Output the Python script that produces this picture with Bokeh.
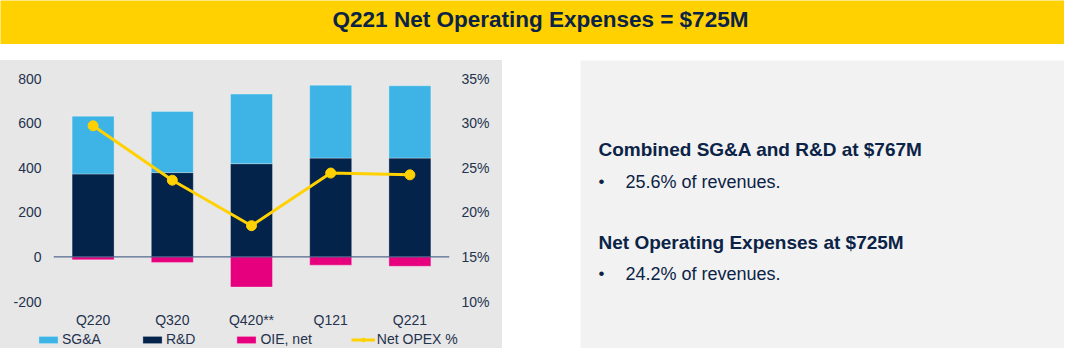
from bokeh.plotting import figure
from bokeh.models import (FactorRange, Range1d, LinearAxis, FixedTicker,
                          PrintfTickFormatter, Span, Legend, LegendItem, Spacer, ColumnDataSource)
from bokeh.layouts import column, row
from bokeh.embed import file_html
from bokeh.resources import INLINE
from bokeh.core.properties import value

# ---------------- data ----------------
quarters = ["Q220", "Q320", "Q420**", "Q121", "Q221"]
rd = [372, 378, 418, 443, 443]
sga = [259, 274, 312, 327, 324]
oie = [-13, -25, -135, -37, -42]
net_opex_pct = [29.7, 23.6, 18.5, 24.4, 24.2]
left_ticks = [-200, 0, 200, 400, 600, 800]
right_ticks = [10, 15, 20, 25, 30, 35]
legend_labels = ["SG&A", "R&D", "OIE, net", "Net OPEX %"]

title_text = "Q221 Net Operating Expenses = $725M"
headings = ["Combined SG&A and R&D at $767M", "Net Operating Expenses at $725M"]
bullets = ["25.6% of revenues.", "24.2% of revenues."]

# ---------------- styles ----------------
FONT = "Liberation Sans"
NAVY = "#0B2346"
AXIS_TXT = "#24324D"
YELLOW = "#FFD100"
C_SGA = "#3DB4E5"
C_RD = "#03234B"
C_OIE = "#E6007E"
CHART_BG = "#E7E7E7"
PANEL_BG = "#F2F2F2"


def bare(fig, bg):
    fig.background_fill_color = bg
    fig.border_fill_color = bg
    fig.outline_line_color = None
    fig.xgrid.visible = False
    fig.ygrid.visible = False
    if hasattr(fig, "frame_align"):
        fig.frame_align = False


# ---------------- banner ----------------
banner = figure(width=1064, height=44, x_range=Range1d(0, 1064), y_range=Range1d(0, 44),
                x_axis_type=None, y_axis_type=None, output_backend="svg",
                toolbar_location=None, min_border=0, title=None)
bare(banner, YELLOW)
banner.text(x=[540], y=[25], text=[title_text], text_font=value(FONT),
            text_font_style="bold", text_font_size="22.5px", text_color=NAVY,
            text_align="center", text_baseline="middle")

# ---------------- chart ----------------
src = ColumnDataSource(dict(
    q=quarters,
    rd_top=rd,
    sga_bottom=rd,
    sga_top=[a + b for a, b in zip(rd, sga)],
    oie=oie,
    pct=net_opex_pct,
    zero=[0] * len(quarters),
))


def draw_series(fig, y_name):
    bw = 0.53
    bar_line = dict(line_color="#FFFFFF", line_alpha=0.3, line_width=1)
    r_rd = fig.vbar(x="q", bottom="zero", top="rd_top", width=bw, source=src,
                    fill_color=C_RD, **bar_line)
    r_sga = fig.vbar(x="q", bottom="sga_bottom", top="sga_top", width=bw, source=src,
                     fill_color=C_SGA, **bar_line)
    r_oie = fig.vbar(x="q", bottom="oie", top="zero", width=bw, source=src,
                     fill_color=C_OIE, **bar_line)
    kw = {"y_range_name": y_name} if y_name else {}
    r_line = fig.line(x="q", y="pct", source=src, line_color=YELLOW, line_width=3, **kw)
    r_pts = fig.scatter(x="q", y="pct", source=src, size=10, fill_color=YELLOW,
                        line_color=YELLOW, **kw)
    return r_sga, r_rd, r_oie, r_line, r_pts


p = figure(x_range=FactorRange(*quarters), y_range=Range1d(-200, 800),
           width=502, height=270, output_backend="svg", toolbar_location=None,
           min_border_left=53, min_border_right=53, min_border_top=18,
           min_border_bottom=27, title=None)
bare(p, CHART_BG)
p.extra_y_ranges = {"pct": Range1d(10, 35)}
draw_series(p, "pct")
p.add_layout(Span(location=0, dimension="width", line_color="#2E4A7A", line_width=1))

for ax in [p.xaxis[0], p.yaxis[0]]:
    ax.axis_line_color = None
    ax.major_tick_line_color = None
    ax.minor_tick_line_color = None
    ax.major_tick_in = 0
    ax.major_tick_out = 0
    ax.major_label_text_font = FONT
    ax.major_label_text_font_size = "14px"
    ax.major_label_text_color = AXIS_TXT

p.xaxis[0].major_label_standoff = 10
p.yaxis[0].ticker = FixedTicker(ticks=left_ticks)
p.yaxis[0].formatter = PrintfTickFormatter(format="%d")
p.yaxis[0].major_label_standoff = 12

ax_r = LinearAxis(y_range_name="pct", ticker=FixedTicker(ticks=right_ticks),
                  formatter=PrintfTickFormatter(format="%d%%"))
ax_r.axis_line_color = None
ax_r.major_tick_line_color = None
ax_r.minor_tick_line_color = None
ax_r.major_tick_in = 0
ax_r.major_tick_out = 0
ax_r.major_label_text_font = FONT
ax_r.major_label_text_font_size = "14px"
ax_r.major_label_text_color = AXIS_TXT
ax_r.major_label_standoff = 12
p.add_layout(ax_r, "right")

# ---------------- legend strip (continues the chart panel) ----------------
# same series, viewed through a y window above all values, so only the legend shows
lf = figure(width=502, height=18, x_range=FactorRange(*quarters), y_range=Range1d(5000, 5001),
            x_axis_type=None, y_axis_type=None, output_backend="svg",
            toolbar_location=None, min_border=0, title=None)
bare(lf, CHART_BG)
l_sga, l_rd, l_oie, l_line, l_pts = draw_series(lf, None)

legend = Legend(items=[
    LegendItem(label=legend_labels[0], renderers=[l_sga]),
    LegendItem(label=legend_labels[1], renderers=[l_rd]),
    LegendItem(label=legend_labels[2], renderers=[l_oie]),
    LegendItem(label=legend_labels[3], renderers=[l_line, l_pts]),
], orientation="horizontal", location=(36, 1), spacing=39,
    glyph_width=24, glyph_height=9, label_standoff=2, label_height=16,
    padding=0, margin=0, background_fill_alpha=0, border_line_color=None,
    label_text_font=FONT, label_text_font_size="14px", label_text_color=AXIS_TXT)
lf.add_layout(legend, "center")

# ---------------- text panel ----------------
t = figure(width=484, height=288, x_range=Range1d(0, 484), y_range=Range1d(0, 288),
           x_axis_type=None, y_axis_type=None, output_backend="svg",
           toolbar_location=None, min_border=0, title=None)
bare(t, PANEL_BG)

t.text(x=[18, 18], y=[199, 106], text=headings, text_font=value(FONT),
       text_font_style="bold", text_font_size="19px", text_color=NAVY,
       text_baseline="middle")
t.text(x=[18, 18], y=[167, 75], text=["\u2022", "\u2022"], text_font=value(FONT),
       text_font_size="17px", text_color=NAVY, text_baseline="middle")
t.text(x=[45, 45], y=[167, 75], text=bullets, text_font=value(FONT),
       text_font_size="18px", text_color=NAVY, text_baseline="middle")

chart_col = column(p, lf, styles={"background-color": CHART_BG})
layout = column(banner, Spacer(width=1064, height=16),
                row(chart_col, Spacer(width=78, height=288), t))

open("out.html", "w").write(file_html(layout, INLINE))
